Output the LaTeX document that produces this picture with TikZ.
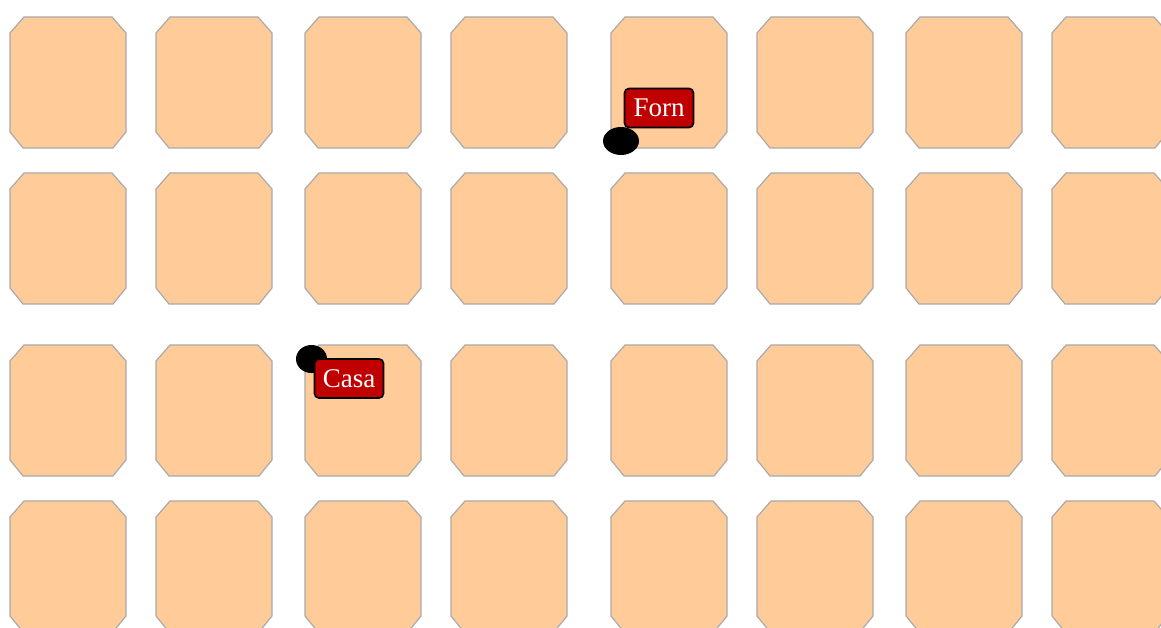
\documentclass[tikz,border=0pt]{standalone}
\usepackage{fontspec}
\setmainfont{Liberation Serif}
\definecolor{peach}{HTML}{FECB99}
\definecolor{edgegray}{HTML}{AAAAAA}
\definecolor{tagred}{HTML}{C00000}
\begin{document}
\begin{tikzpicture}[x=1pt,y=-1pt,
  block/.style={fill=peach,draw=edgegray,line width=1.2pt},
  tag/.style={fill=tagred,draw=black,line width=1.7pt,rounded corners=4.5pt,text=white,
    minimum width=69pt,minimum height=39pt,inner sep=0pt,font=\fontsize{27}{27}\selectfont}]
\useasboundingbox (0,0) rectangle (1161,628);
\fill[white] (0,0) rectangle (1161,628);
\foreach \x in {10,156,305,451,611,757,906,1052}{
  \foreach \y/\h in {17/131,173/131,345/131,501/131}{
    \draw[block] (\x+14,\y) -- (\x+102,\y) -- (\x+116,\y+16) -- (\x+116,\y+\h-16)
      -- (\x+103,\y+\h) -- (\x+13,\y+\h) -- (\x,\y+\h-16) -- (\x,\y+16) -- cycle;
  }
}
% Forn
\node[tag] (forn) at (659,108) {Forn};
\fill[black] (621,141) ellipse [x radius=18, y radius=14];
\coordinate (fornpin) at (621,141);
% Casa
\fill[black] (311.5,359) ellipse [x radius=15.5, y radius=14];
\coordinate (casapin) at (311.5,359);
\node[tag] (casa) at (349,378.5) {Casa};
\end{tikzpicture}
\end{document}
